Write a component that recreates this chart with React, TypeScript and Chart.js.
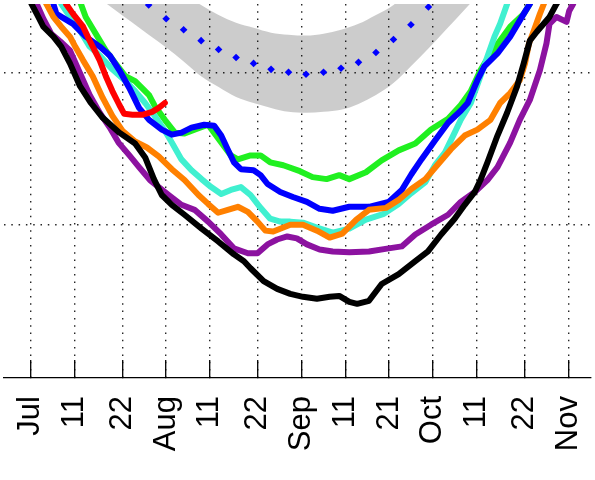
import { useEffect, useRef } from "react";
import { Chart, registerables } from "chart.js";

Chart.register(...registerables);

const W = 595;
const H = 480;

// Horizontal axis: days counted from 1 July (day 0)
const X_MIN = -6.093;
const X_MAX = 128.19;
// Vertical axis: extent, million km²
const Y_MIN = 4;
const Y_MAX = 6.4466;

const tickDays = [0, 10, 21, 31, 41, 52, 62, 72, 82, 92, 102, 113, 123];
const tickLabels = ["Jul", "11", "22", "Aug", "11", "22", "Sep", "11", "21", "Oct", "11", "22", "Nov"];
const gridValues = [5, 6];

// Climatology: mean and ±2σ envelope, every 4 days
const climDays = [15, 19, 23, 27, 31, 35, 39, 43, 47, 51, 55, 59, 63, 67, 71, 75, 79, 83, 87, 91, 95, 99, 103, 107];
const climMean = [6.757, 6.647, 6.537, 6.44, 6.35, 6.278, 6.207, 6.149, 6.097, 6.058, 6.019, 6.0, 5.987, 6.0, 6.026, 6.065, 6.129, 6.214, 6.311, 6.427, 6.544, 6.673, 6.809, 6.951];
const climUpper = [7.061, 6.932, 6.803, 6.686, 6.583, 6.511, 6.44, 6.375, 6.324, 6.291, 6.259, 6.246, 6.24, 6.252, 6.278, 6.317, 6.375, 6.44, 6.557, 6.686, 6.816, 6.951, 7.094, 7.223];
const climLower = [6.498, 6.414, 6.33, 6.246, 6.162, 6.071, 5.974, 5.903, 5.838, 5.799, 5.767, 5.741, 5.735, 5.741, 5.754, 5.793, 5.851, 5.929, 6.039, 6.155, 6.278, 6.401, 6.524, 6.641];

// Yearly curves
const redDays = [7.5, 8.1, 9.7, 12.0, 13.5, 15.8, 17.2, 18.7, 20.3, 21.4, 23.3, 25.5, 27.8, 29.3, 30.7];
const redExtent = [6.498, 6.447, 6.382, 6.298, 6.207, 6.078, 5.974, 5.877, 5.786, 5.728, 5.722, 5.722, 5.741, 5.767, 5.799];

const blackDays = [-1.1, 0.2, 1.4, 2.9, 5.2, 7.0, 9.0, 11.3, 13.8, 16.5, 20.3, 23.9, 26.2, 28.2, 30.0, 32.3, 35.2, 39.1, 42.9, 46.5, 48.8, 50.3, 53.3, 56.4, 59.4, 62.3, 65.5, 68.4, 70.6, 72.9, 74.7, 77.4, 80.3, 84.2, 88.0, 90.9, 93.9, 97.0, 99.3, 101.6, 102.9, 104.5, 106.8, 109.0, 111.3, 112.8, 114.2, 115.8, 118.7, 120.3, 121.4];
const blackExtent = [6.544, 6.447, 6.382, 6.298, 6.233, 6.168, 6.058, 5.909, 5.799, 5.702, 5.605, 5.534, 5.443, 5.301, 5.197, 5.133, 5.068, 4.977, 4.893, 4.809, 4.764, 4.718, 4.634, 4.583, 4.55, 4.531, 4.518, 4.531, 4.537, 4.498, 4.485, 4.505, 4.615, 4.68, 4.764, 4.828, 4.939, 5.042, 5.133, 5.217, 5.295, 5.411, 5.586, 5.735, 5.909, 6.058, 6.207, 6.265, 6.362, 6.447, 6.499];

const orangeDays = [2.5, 3.6, 5.2, 7.0, 9.0, 10.2, 12.0, 14.2, 16.5, 18.7, 21.0, 23.9, 26.6, 29.3, 32.3, 35.2, 38.4, 40.6, 42.9, 45.1, 47.4, 49.7, 51.9, 53.7, 55.5, 59.4, 62.3, 65.5, 68.4, 71.3, 74.5, 77.4, 81.3, 84.2, 87.1, 90.3, 93.2, 96.1, 99.3, 102.2, 105.2, 107.4, 109.7, 111.9, 113.1, 114.0, 115.1, 116.5, 117.4, 118.0];
const orangeExtent = [6.511, 6.447, 6.362, 6.298, 6.233, 6.168, 6.078, 5.974, 5.832, 5.715, 5.618, 5.547, 5.508, 5.45, 5.366, 5.295, 5.197, 5.139, 5.081, 5.1, 5.12, 5.087, 5.023, 4.964, 4.958, 5.003, 5.003, 4.964, 4.919, 4.945, 5.036, 5.1, 5.113, 5.165, 5.236, 5.301, 5.398, 5.495, 5.586, 5.625, 5.689, 5.799, 5.864, 5.948, 6.058, 6.188, 6.272, 6.382, 6.447, 6.498];

const blueDays = [4.5, 5.2, 5.9, 9.7, 12.6, 15.8, 18.1, 20.3, 22.6, 24.8, 27.1, 30.0, 32.3, 34.5, 36.8, 39.7, 42.0, 43.6, 45.1, 46.5, 48.1, 51.0, 52.6, 54.2, 57.1, 60.0, 63.2, 66.1, 69.1, 72.9, 77.4, 81.9, 84.9, 87.1, 89.4, 92.5, 95.5, 98.4, 100.0, 102.2, 103.8, 106.8, 109.7, 112.8, 114.2, 115.1];
const blueExtent = [6.511, 6.447, 6.382, 6.317, 6.233, 6.168, 6.11, 6.013, 5.896, 5.767, 5.689, 5.625, 5.592, 5.605, 5.638, 5.657, 5.65, 5.586, 5.495, 5.411, 5.366, 5.359, 5.327, 5.269, 5.217, 5.184, 5.152, 5.107, 5.094, 5.12, 5.12, 5.152, 5.23, 5.333, 5.43, 5.553, 5.67, 5.748, 5.799, 5.948, 6.039, 6.123, 6.233, 6.382, 6.447, 6.498];

const cyanDays = [6.3, 7.0, 9.0, 11.3, 13.5, 15.8, 18.7, 21.7, 23.9, 26.2, 28.2, 30.7, 32.3, 34.5, 36.8, 39.1, 41.3, 43.6, 45.8, 48.1, 50.3, 52.6, 54.8, 57.1, 59.4, 62.3, 65.5, 69.1, 72.9, 76.7, 80.8, 84.2, 87.1, 90.3, 92.5, 94.8, 97.0, 98.4, 100.7, 102.9, 104.5, 106.1, 107.4, 109.0, 109.7];
const cyanExtent = [6.511, 6.447, 6.362, 6.272, 6.168, 6.11, 6.019, 5.942, 5.877, 5.799, 5.722, 5.618, 5.54, 5.43, 5.359, 5.301, 5.249, 5.204, 5.23, 5.249, 5.197, 5.113, 5.042, 5.023, 5.023, 5.016, 4.984, 4.951, 4.977, 5.036, 5.074, 5.139, 5.21, 5.282, 5.392, 5.476, 5.605, 5.689, 5.799, 5.974, 6.104, 6.233, 6.317, 6.447, 6.498];

const greenDays = [10.8, 11.5, 12.6, 14.9, 17.2, 19.4, 21.7, 23.9, 25.5, 27.1, 28.4, 30.7, 33.0, 35.2, 37.5, 40.6, 43.6, 45.8, 47.4, 50.3, 52.6, 54.8, 57.8, 61.6, 64.5, 67.7, 70.6, 72.9, 76.7, 80.3, 84.2, 88.0, 91.6, 95.5, 98.4, 100.7, 102.9, 105.2, 107.4, 109.7, 112.8, 114.2, 114.9];
const greenExtent = [6.511, 6.447, 6.362, 6.252, 6.142, 6.058, 5.974, 5.942, 5.896, 5.851, 5.78, 5.689, 5.605, 5.599, 5.625, 5.657, 5.54, 5.456, 5.43, 5.456, 5.456, 5.411, 5.392, 5.353, 5.314, 5.301, 5.327, 5.301, 5.346, 5.424, 5.489, 5.534, 5.625, 5.696, 5.786, 5.877, 6.013, 6.123, 6.207, 6.298, 6.382, 6.447, 6.498];

const purpleDays = [-0.2, 1.4, 2.9, 4.7, 6.8, 9.0, 11.3, 13.5, 15.8, 18.1, 20.1, 22.6, 24.8, 27.3, 29.3, 31.6, 34.5, 37.5, 40.6, 43.6, 46.5, 49.7, 51.9, 54.2, 56.4, 58.7, 60.9, 63.2, 66.1, 69.1, 72.9, 77.4, 81.9, 84.9, 88.0, 91.6, 95.5, 98.4, 101.6, 104.5, 106.8, 109.7, 111.9, 114.2, 116.5, 118.0, 118.7, 120.3, 122.6, 123.2, 124.1, 124.8];
const purpleExtent = [6.511, 6.447, 6.35, 6.252, 6.201, 6.142, 5.994, 5.851, 5.735, 5.638, 5.54, 5.456, 5.379, 5.295, 5.249, 5.197, 5.133, 5.1, 5.023, 4.939, 4.848, 4.816, 4.816, 4.874, 4.906, 4.926, 4.913, 4.874, 4.841, 4.828, 4.822, 4.828, 4.848, 4.861, 4.939, 5.003, 5.068, 5.152, 5.217, 5.295, 5.379, 5.54, 5.689, 5.819, 6.013, 6.188, 6.317, 6.362, 6.33, 6.401, 6.447, 6.498];

const GRID_COLOR = "rgba(0,0,0,0.85)";
const GRID_DASH = [1.5, 5.8];
const TICK_FONT = { family: "'Liberation Sans', Arial, sans-serif", size: 31 };

const pts = (days: number[], vals: number[]) => days.map((d, i) => ({ x: d, y: vals[i] }));

const yearLine = (label: string, days: number[], vals: number[], color: string) => ({
  label,
  data: pts(days, vals),
  borderColor: color,
  backgroundColor: color,
  borderWidth: 6,
  borderJoinStyle: "round" as const,
  borderCapStyle: "round" as const,
  pointRadius: 0,
  tension: 0,
  fill: false,
});

export default function App() {
  const canvasRef = useRef<HTMLCanvasElement>(null);

  useEffect(() => {
    const canvas = canvasRef.current;
    if (!canvas) return;

    const chart = new Chart(canvas, {
      type: "line",
      data: {
        datasets: [
          yearLine("red", redDays, redExtent, "#ff0000"),
          yearLine("black", blackDays, blackExtent, "#000000"),
          yearLine("orange", orangeDays, orangeExtent, "#ff8000"),
          yearLine("blue", blueDays, blueExtent, "#0000ff"),
          yearLine("cyan", cyanDays, cyanExtent, "#40f0d0"),
          yearLine("green", greenDays, greenExtent, "#20f020"),
          yearLine("purple", purpleDays, purpleExtent, "#8c12a0"),
          {
            label: "mean",
            data: pts(climDays, climMean),
            showLine: false,
            pointStyle: "rectRot",
            pointRadius: 3.8,
            pointBackgroundColor: "#0000ff",
            pointBorderColor: "#0000ff",
            pointBorderWidth: 0,
            fill: false,
          },
          {
            label: "upper",
            data: pts(climDays, climUpper),
            borderColor: "transparent",
            borderWidth: 0,
            pointRadius: 0,
            cubicInterpolationMode: "monotone",
            backgroundColor: "rgba(0,0,0,0.2)",
            fill: "+1",
          },
          {
            label: "lower",
            data: pts(climDays, climLower),
            borderColor: "transparent",
            borderWidth: 0,
            pointRadius: 0,
            cubicInterpolationMode: "monotone",
            fill: false,
          },
        ],
      },
      options: {
        responsive: false,
        animation: false,
        devicePixelRatio: 1,
        layout: { padding: 0 },
        plugins: {
          legend: { display: false },
          tooltip: { enabled: false },
        },
        scales: {
          x: {
            type: "linear",
            min: X_MIN,
            max: X_MAX,
            afterBuildTicks: (scale: any) => {
              scale.ticks = tickDays.map((v) => ({ value: v }));
            },
            afterFit: (scale: any) => {
              scale.height = 102;
              scale.paddingLeft = 0;
              scale.paddingRight = 0;
            },
            ticks: {
              autoSkip: false,
              minRotation: 90,
              maxRotation: 90,
              padding: 36,
              color: "#000",
              font: TICK_FONT,
              callback: (value: any) => {
                const i = tickDays.indexOf(Number(value));
                return i >= 0 ? tickLabels[i] : "";
              },
            },
            grid: {
              color: GRID_COLOR,
              lineWidth: 1.4,
              drawTicks: true,
              tickLength: -18,
              tickColor: "#000",
              tickWidth: 1.3,
              tickBorderDash: [],
            },
            border: { display: true, color: "#000", width: 1.3, dash: GRID_DASH },
          },
          y: {
            type: "linear",
            min: Y_MIN,
            max: Y_MAX,
            afterBuildTicks: (scale: any) => {
              scale.ticks = gridValues.map((v) => ({ value: v }));
            },
            ticks: { display: false },
            grid: { color: GRID_COLOR, lineWidth: 1.4, drawTicks: false },
            border: { display: false, dash: GRID_DASH },
          },
        },
      },
    } as any);

    return () => chart.destroy();
  }, []);

  return (
    <div
      style={{
        position: "fixed",
        left: 0,
        top: 0,
        width: W,
        height: H,
        overflow: "hidden",
        background: "#fff",
      }}
    >
      <canvas ref={canvasRef} width={W} height={H} style={{ display: "block" }} />
    </div>
  );
}
